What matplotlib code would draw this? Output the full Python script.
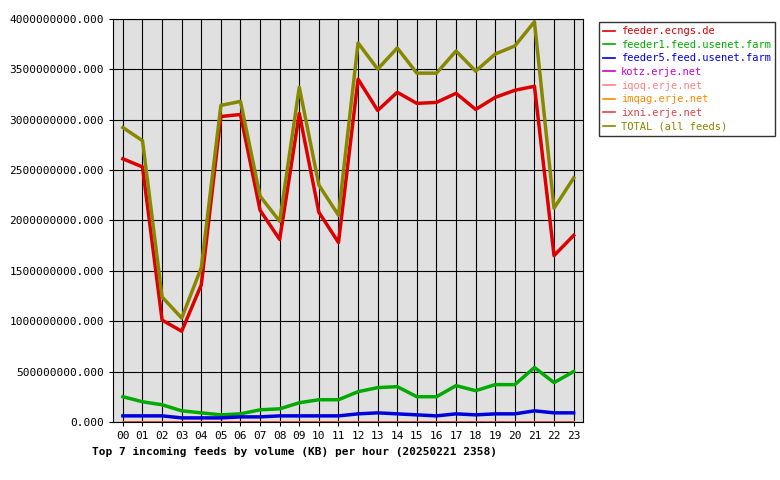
import matplotlib.pyplot as plt
from matplotlib.ticker import FuncFormatter

hours = ["%02d" % h for h in range(24)]
ecngs = [2.61, 2.53, 1.01, 0.90, 1.36, 3.03, 3.05, 2.10, 1.81, 3.06, 2.08, 1.78,
         3.40, 3.09, 3.27, 3.16, 3.17, 3.26, 3.10, 3.22, 3.29, 3.33, 1.65, 1.85]
feeder1 = [0.25, 0.20, 0.17, 0.11, 0.09, 0.07, 0.08, 0.12, 0.13, 0.19, 0.22, 0.22,
           0.30, 0.34, 0.35, 0.25, 0.25, 0.36, 0.31, 0.37, 0.37, 0.54, 0.39, 0.50]
feeder5 = [0.06, 0.06, 0.06, 0.04, 0.04, 0.04, 0.05, 0.05, 0.06, 0.06, 0.06, 0.06,
           0.08, 0.09, 0.08, 0.07, 0.06, 0.08, 0.07, 0.08, 0.08, 0.11, 0.09, 0.09]
kotz = [0.003] * 24
iqoq = [0.002] * 24
imqag = [0.002] * 24
ixni = [0.001] * 24
total = [2.92, 2.79, 1.24, 1.03, 1.53, 3.14, 3.18, 2.24, 1.99, 3.32, 2.35, 2.05,
         3.76, 3.50, 3.71, 3.46, 3.46, 3.68, 3.48, 3.65, 3.73, 3.97, 2.12, 2.42]

series = [
    ("feeder.ecngs.de", ecngs, "#dd0000"),
    ("feeder1.feed.usenet.farm", feeder1, "#00aa00"),
    ("feeder5.feed.usenet.farm", feeder5, "#0000dd"),
    ("kotz.erje.net", kotz, "#cc00cc"),
    ("iqoq.erje.net", iqoq, "#ff8080"),
    ("imqag.erje.net", imqag, "#ff8800"),
    ("ixni.erje.net", ixni, "#dd4444"),
    ("TOTAL (all feeds)", total, "#888800"),
]
thick = ("feeder.ecngs.de", "feeder1.feed.usenet.farm", "feeder5.feed.usenet.farm", "TOTAL (all feeds)")

plt.rcParams["font.family"] = "DejaVu Sans Mono"
fig = plt.figure(figsize=(7.8, 4.8), dpi=100)
ax = fig.add_axes([0.145, 0.121, 0.603, 0.840])
ax.set_facecolor("#e0e0e0")
x = range(24)
handles = []
for name, vals, col in series:
    h, = ax.plot(x, [v * 1e9 for v in vals], color=col,
                 lw=2.5 if name in thick else 1.2, label=name)
    handles.append(h)

ax.set_xlim(-0.5, 23.5)
ax.set_ylim(0, 4e9)
ax.set_xticks(list(x))
ax.set_xticklabels(hours)
ax.set_yticks([i * 5e8 for i in range(9)])
ax.yaxis.set_major_formatter(FuncFormatter(lambda v, p: "%.3f" % v))
ax.grid(True, color="black", lw=0.8)
ax.set_axisbelow(True)
ax.tick_params(labelsize=8, length=3)
for s in ax.spines.values():
    s.set_color("black")
fig.text(0.118, 0.052, "Top 7 incoming feeds by volume (KB) per hour (20250221 2358)",
         fontsize=8, fontweight="bold")

leg = fig.legend(handles=handles, loc="upper left", bbox_to_anchor=(0.761, 0.965),
                 fontsize=7.5, frameon=True, fancybox=False, edgecolor="black",
                 handlelength=1.2, handletextpad=0.5, borderpad=0.4, labelspacing=0.35)
for t, (_, _, col) in zip(leg.get_texts(), series):
    t.set_color(col)
for lh in leg.get_lines():
    lh.set_linewidth(1.2)

fig.savefig("out.png", dpi=100)
